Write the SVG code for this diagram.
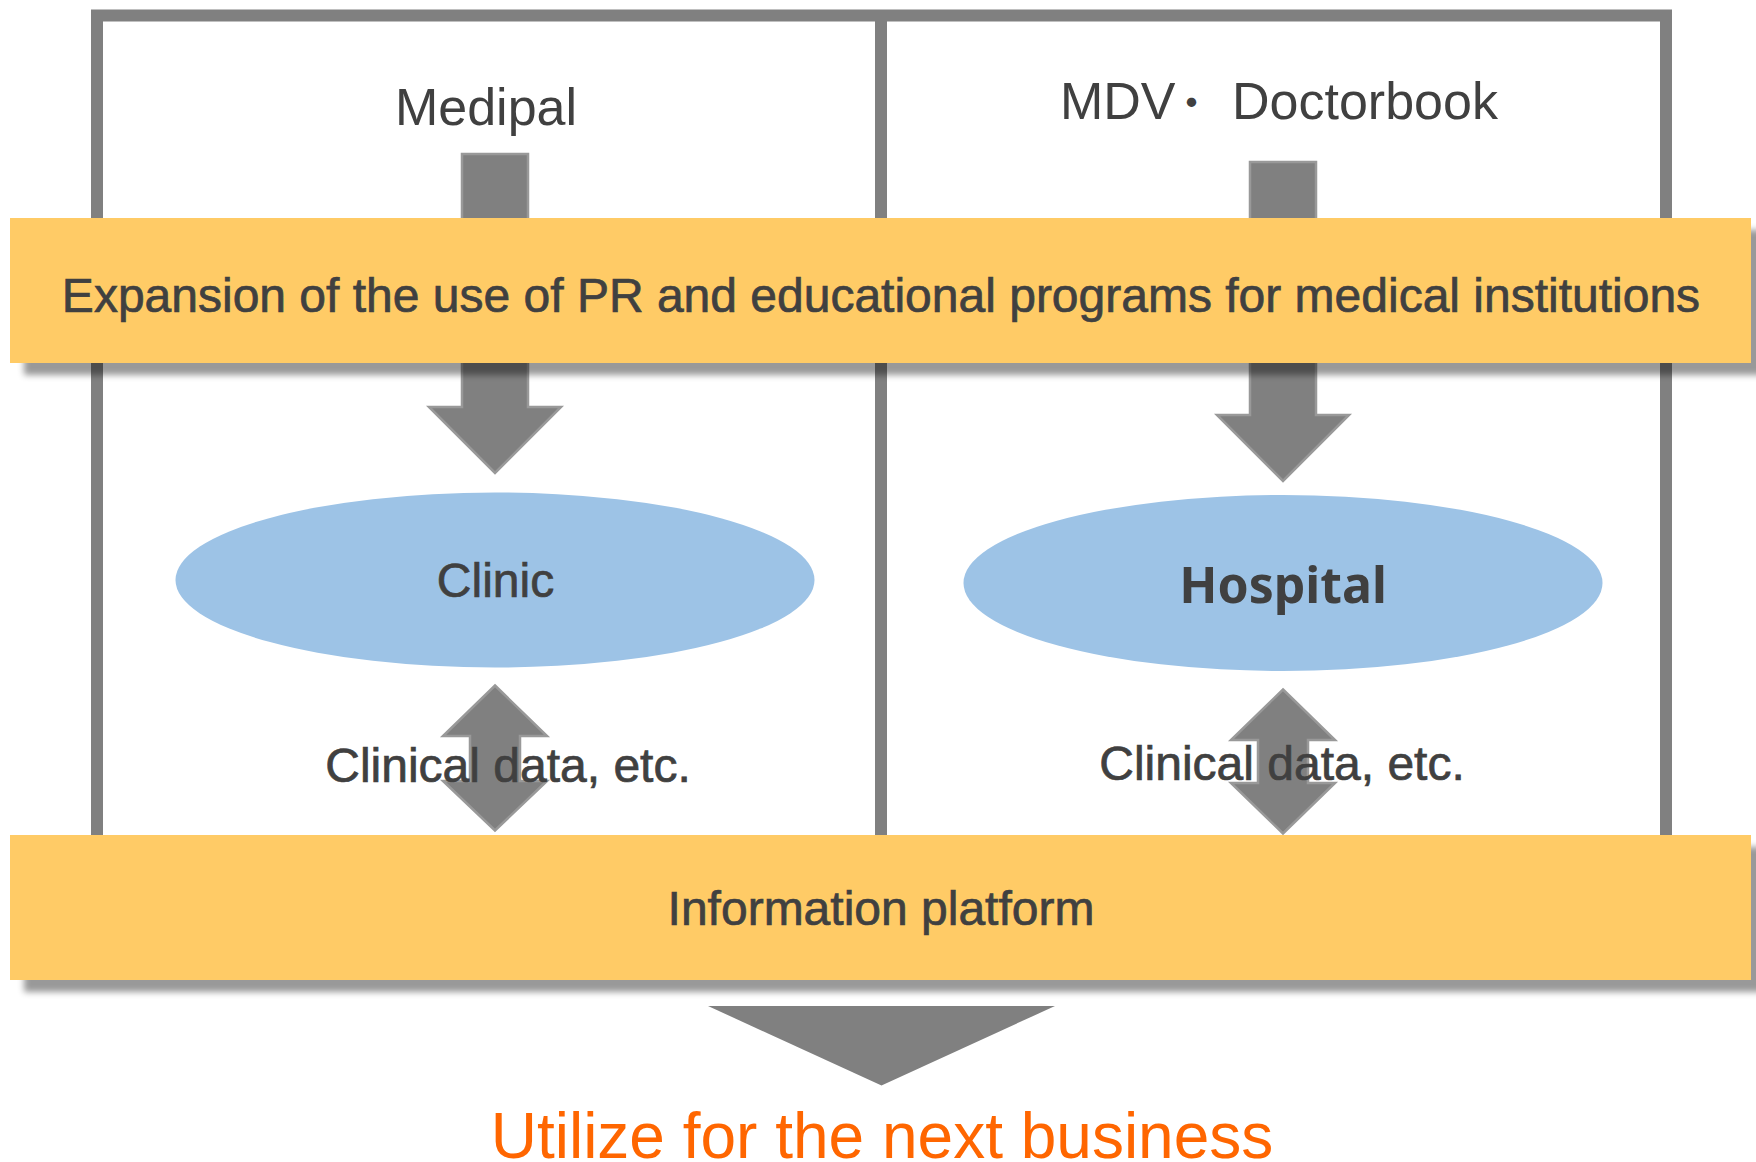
<svg xmlns="http://www.w3.org/2000/svg" width="1756" height="1162" viewBox="0 0 1756 1162">
  <defs>
    <filter id="shadow" x="-5%" y="-20%" width="115%" height="150%">
      <feDropShadow dx="14" dy="12" stdDeviation="3" flood-color="#000000" flood-opacity="0.4"/>
    </filter>
    <style>
      .frame { fill: none; stroke: #808080; stroke-width: 12; }
      .arrow { fill: #808080; stroke: #999999; stroke-width: 2.5; stroke-linejoin: miter; }
      .band { fill: #FFCB66; filter: url(#shadow); }
      .oval { fill: #9DC3E6; }
      .t { font-family: "Liberation Sans", Arial, sans-serif; fill: #404040; }
      .lbl { font-size: 48px; text-anchor: middle; stroke: #404040; stroke-width: 0.7; }
      .head { font-size: 52px; }
    </style>
  </defs>
  <rect x="0" y="0" width="1756" height="1162" fill="#FFFFFF"/>

  <g id="frame">
    <rect class="frame" x="97" y="15.5" width="1569" height="880"/>
    <line class="frame" x1="881" y1="15.5" x2="881" y2="895"/>
  </g>

  <g id="medipal">
    <text class="t head" x="486" y="125" text-anchor="middle">Medipal</text>
  </g>
  <g id="mdv-doctorbook">
    <text class="t head" x="1060" y="119">MDV<tspan dx="-6" font-family="'Noto Sans CJK JP', sans-serif" font-size="44">・</tspan><tspan dx="4"> Doctorbook</tspan></text>
  </g>

  <g id="connectors">
    <path class="arrow" d="M462,154 H528 V407 H561 L495,473 L429,407 H462 Z"/>
    <path class="arrow" d="M1250,162 H1316 V415 H1349 L1283,481 L1217,415 H1250 Z"/>
    <path class="arrow" d="M495,685.5 L547,736 H520 V781 H547 L495,830.5 L443,781 H470 V736 H443 Z"/>
    <path class="arrow" d="M1283,689.5 L1335,740 H1308 V783 H1335 L1283,833.5 L1231,783 H1258 V740 H1231 Z"/>
    <text class="t lbl" x="508" y="782">Clinical data, etc.</text>
    <text class="t lbl" x="1282" y="780">Clinical data, etc.</text>
    <path d="M708,1006 H1055 L881.5,1085.5 Z" fill="#808080"/>
  </g>

  <g id="expansion-band">
    <rect class="band" x="10" y="218" width="1741" height="145"/>
    <text class="t lbl" x="881" y="312">Expansion of the use of PR and educational programs for medical institutions</text>
  </g>

  <g id="clinic">
    <ellipse class="oval" cx="495" cy="580" rx="319.5" ry="87.5"/>
    <text class="t lbl" x="495.5" y="597">Clinic</text>
  </g>

  <g id="hospital">
    <ellipse class="oval" cx="1283" cy="583" rx="319.5" ry="88"/>
    <text x="1283" y="602.5" text-anchor="middle" font-family="'Noto Sans', 'Open Sans', sans-serif" font-weight="bold" font-size="50" fill="#404040">Hospital</text>
  </g>

  <g id="information-platform">
    <rect class="band" x="10" y="835" width="1741" height="145"/>
    <text class="t lbl" x="881" y="925">Information platform</text>
  </g>

  <g id="next-business">
    <text x="882" y="1158" text-anchor="middle" font-family="'Liberation Sans', Arial, sans-serif" font-size="64" fill="#FF6600">Utilize for the next business</text>
  </g>
</svg>
